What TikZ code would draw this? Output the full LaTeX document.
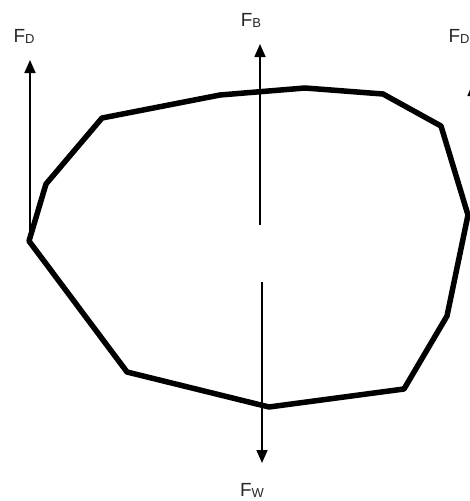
\documentclass[tikz,border=0pt]{standalone}
\usepackage{fontspec}
\setmainfont{Liberation Sans}
\usetikzlibrary{arrows.meta}

\begin{document}
\begin{tikzpicture}[x=1pt, y=-1pt,
  hull/.style={line width=5.5pt, line join=round},
  force/.style={-{Triangle[length=13pt,width=11pt]}, line width=1.6pt},
  lbl/.style={font=\fontsize{19}{21}\selectfont, text=black!85, inner sep=0pt},
]
  \useasboundingbox (0,0) rectangle (470,501);
  % body outline
  \draw[hull] (29,241) -- (46,184) -- (102,118) -- (220,95) -- (305,88) -- (383,94)
    -- (441,126) -- (468,215) -- (447,316) -- (404,389) -- (269,407) -- (127,372) -- cycle;
  % force ends
  \coordinate (dl0) at (30,241);
  \coordinate (dl1) at (30,60);
  \coordinate (b0) at (260,225);
  \coordinate (b1) at (260,44);
  \coordinate (w0) at (262,282);
  \coordinate (w1) at (262,463);
  \coordinate (dr0) at (473,215);
  \coordinate (dr1) at (473,83);
  \draw[force] (dl0) -- (dl1);
  \draw[force] (b0) -- (b1);
  \draw[force] (w0) -- (w1);
  \draw[force] (dr0) -- (dr1);
  % labels
  \node[lbl] (fdl) at (24,36) {F\raisebox{-1pt}{\fontsize{13}{13}\selectfont D}};
  \node[lbl] (fb) at (251,20) {F\raisebox{-1pt}{\fontsize{13}{13}\selectfont B}};
  \node[lbl] (fw) at (252,490) {F\raisebox{-1pt}{\fontsize{13}{13}\selectfont W}};
  \node[lbl] (fdr) at (459,36) {F\raisebox{-1pt}{\fontsize{13}{13}\selectfont D}};
\end{tikzpicture}
\end{document}
